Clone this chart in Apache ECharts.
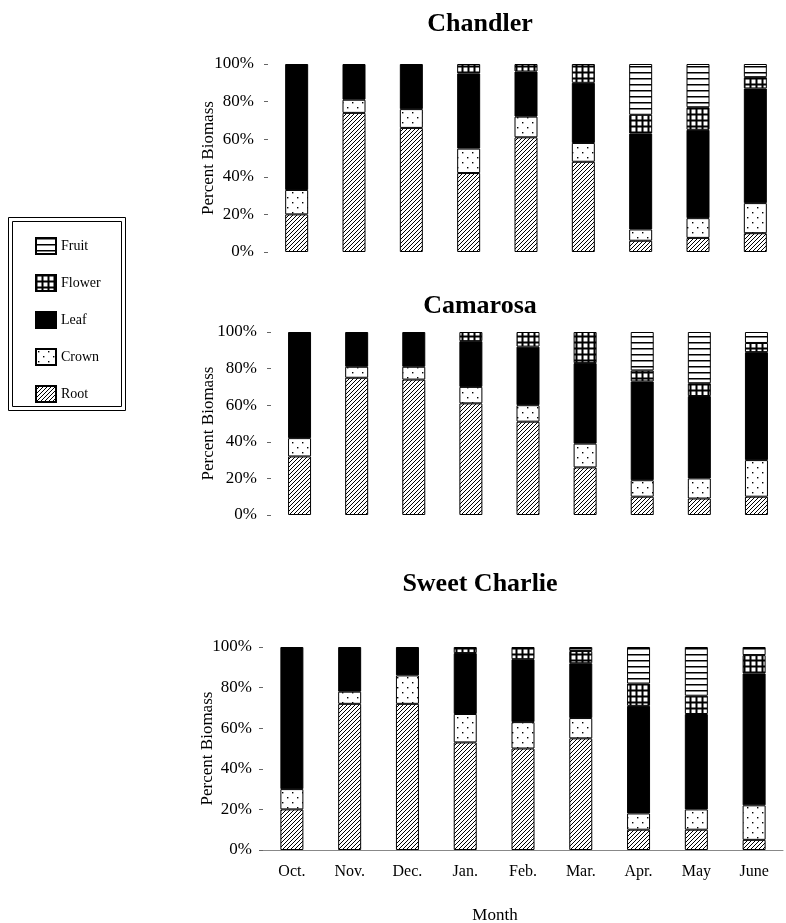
<!DOCTYPE html>
<html>
<head>
<meta charset="utf-8">
<script src="https://cdn.jsdelivr.net/npm/echarts@6/dist/echarts.min.js"></script>
<style>html,body{margin:0;padding:0;background:#fff}#c{width:786px;height:923px}</style>
</head>
<body>
<div id="c"></div>
<script>
// ---- data (percent of biomass per component) ----
const months = ['Oct.', 'Nov.', 'Dec.', 'Jan.', 'Feb.', 'Mar.', 'Apr.', 'May', 'June'];
const cultivars = ['Chandler', 'Camarosa', 'Sweet Charlie'];
const legendOrder = ['Fruit', 'Flower', 'Leaf', 'Crown', 'Root'];
const yTicks = [0, 20, 40, 60, 80, 100];

const chandlerRoot   = [20, 74, 66, 42, 61, 48, 6, 7.5, 10];
const chandlerCrown  = [13, 7, 10, 13, 11, 10, 6, 10.5, 16];
const chandlerLeaf   = [67, 19, 24, 40, 24, 32, 51, 47, 61];
const chandlerFlower = [0, 0, 0, 5, 4, 10, 10, 12, 6];
const chandlerFruit  = [0, 0, 0, 0, 0, 0, 27, 23, 7];

const camarosaRoot   = [32, 75, 74, 61, 51, 26, 10, 9, 10];
const camarosaCrown  = [10, 6, 7, 9, 9, 13, 9, 11, 20];
const camarosaLeaf   = [58, 19, 19, 25, 32, 44, 54, 45, 59];
const camarosaFlower = [0, 0, 0, 5, 8, 17, 6, 7, 5];
const camarosaFruit  = [0, 0, 0, 0, 0, 0, 21, 28, 6];

const sweetRoot   = [20, 72, 72, 53, 50, 55, 10, 10, 5];
const sweetCrown  = [10, 6, 14, 14, 13, 10, 8, 10, 17];
const sweetLeaf   = [70, 22, 14, 30, 31, 27, 53, 47, 65];
const sweetFlower = [0, 0, 0, 3, 6, 6, 11, 9, 9];
const sweetFruit  = [0, 0, 0, 0, 0, 2, 18, 24, 4];

const dataSets = [
  {Root: chandlerRoot, Crown: chandlerCrown, Leaf: chandlerLeaf, Flower: chandlerFlower, Fruit: chandlerFruit},
  {Root: camarosaRoot, Crown: camarosaCrown, Leaf: camarosaLeaf, Flower: camarosaFlower, Fruit: camarosaFruit},
  {Root: sweetRoot, Crown: sweetCrown, Leaf: sweetLeaf, Flower: sweetFlower, Fruit: sweetFruit}
];

// ---- patterns ----
function makeCanvas(w, h, draw) {
  const c = document.createElement('canvas');
  c.width = w; c.height = h;
  const ctx = c.getContext('2d');
  draw(ctx, w, h);
  return c;
}
const hatch = makeCanvas(4, 4, (ctx, w, h) => {
  ctx.fillStyle = '#fff'; ctx.fillRect(0, 0, w, h);
  ctx.strokeStyle = '#000'; ctx.lineWidth = 1;
  ctx.beginPath();
  ctx.moveTo(-1, h + 1); ctx.lineTo(w + 1, -1);
  ctx.moveTo(-1, 1); ctx.lineTo(1, -1);
  ctx.moveTo(w - 1, h + 1); ctx.lineTo(w + 1, h - 1);
  ctx.stroke();
});
const dots = makeCanvas(10, 10, (ctx, w, h) => {
  ctx.fillStyle = '#fff'; ctx.fillRect(0, 0, w, h);
  ctx.fillStyle = '#000';
  ctx.fillRect(2, 2, 1.4, 1.4);
  ctx.fillRect(7, 7, 1.4, 1.4);
});
const grid = makeCanvas(6, 6, (ctx, w, h) => {
  ctx.fillStyle = '#000'; ctx.fillRect(0, 0, w, h);
  ctx.fillStyle = '#fff'; ctx.fillRect(1.5, 1.5, 4, 4);
});
const lines = makeCanvas(4, 6, (ctx, w, h) => {
  ctx.fillStyle = '#fff'; ctx.fillRect(0, 0, w, h);
  ctx.fillStyle = '#000'; ctx.fillRect(0, 0, w, 1.5);
});
const fills = {
  Root: {image: hatch, repeat: 'repeat'},
  Crown: {image: dots, repeat: 'repeat'},
  Leaf: '#000',
  Flower: {image: grid, repeat: 'repeat'},
  Fruit: {image: lines, repeat: 'repeat'}
};

const serif = 'Liberation Serif';
const grids = [
  {left: 268, right: 2, top: 64, height: 188, outerBoundsMode: 'none', containLabel: false},
  {left: 271, right: 1, top: 332, height: 183, outerBoundsMode: 'none', containLabel: false},
  {left: 263, right: 3, top: 647, height: 203, outerBoundsMode: 'none', containLabel: false}
];
const nameGaps = [51, 54, 47];
const labelMargins = [14, 14, 11];
const titleTops = [6, 288, 566];
const barWidths = [23, 23, 23];

const stackOrder = ['Root', 'Crown', 'Leaf', 'Flower', 'Fruit'];
const series = [];
dataSets.forEach((ds, g) => {
  stackOrder.forEach(name => {
    series.push({
      type: 'bar', name: name, stack: 's' + g,
      xAxisIndex: g, yAxisIndex: g,
      barWidth: barWidths[g],
      itemStyle: {color: fills[name], borderColor: '#000', borderWidth: 1},
      emphasis: {disabled: true},
      data: ds[name].map(v => v === 0 ? '-' : v)
    });
  });
});

const option = {
  animation: false,
  backgroundColor: '#fff',
  title: cultivars.map((t, i) => ({
    text: t, left: 475, top: titleTops[i], textAlign: 'center',
    textStyle: {fontFamily: serif, fontWeight: 'bold', fontSize: 26, color: '#000'}
  })),
  legend: {
    data: legendOrder, orient: 'vertical', left: 35, top: 237,
    itemWidth: 20, itemHeight: 16, itemGap: 19, icon: 'rect',
    padding: 0, selectedMode: false,
    textStyle: {fontFamily: serif, fontSize: 14, color: '#000'}
  },
  graphic: [
    {type: 'rect', shape: {x: 8.5, y: 217.5, width: 117, height: 193}, style: {fill: null, stroke: '#000', lineWidth: 1}},
    {type: 'rect', shape: {x: 12.5, y: 221.5, width: 109, height: 185}, style: {fill: null, stroke: '#000', lineWidth: 1}}
  ],
  grid: grids,
  xAxis: grids.map((g, i) => ({
    type: 'category', gridIndex: i, data: months,
    axisTick: {show: false},
    axisLine: {show: i === 2, lineStyle: {color: '#888', width: 1}},
    axisLabel: {show: i === 2, margin: 14, fontFamily: serif, fontSize: 16, color: '#000'},
    name: i === 2 ? 'Month' : '', nameLocation: 'middle', nameGap: 57, nameMoveOverlap: false,
    nameTextStyle: {fontFamily: serif, fontSize: 17, color: '#000', padding: [0, 56, 0, 0]}
  })),
  yAxis: grids.map((g, i) => ({
    type: 'value', gridIndex: i, min: yTicks[0], max: yTicks[yTicks.length - 1], interval: 20,
    splitLine: {show: false},
    axisLine: {show: false},
    axisTick: {show: true, length: 4, lineStyle: {color: '#666'}},
    axisLabel: {formatter: '{value}%', margin: labelMargins[i], fontFamily: serif, fontSize: 17, color: '#000'},
    name: 'Percent Biomass', nameLocation: 'middle', nameGap: nameGaps[i], nameMoveOverlap: false,
    nameTextStyle: {fontFamily: serif, fontSize: 17, color: '#000'}
  })),
  series: series
};

const chart = echarts.init(document.getElementById('c'));
chart.setOption(option);
</script>
</body>
</html>
